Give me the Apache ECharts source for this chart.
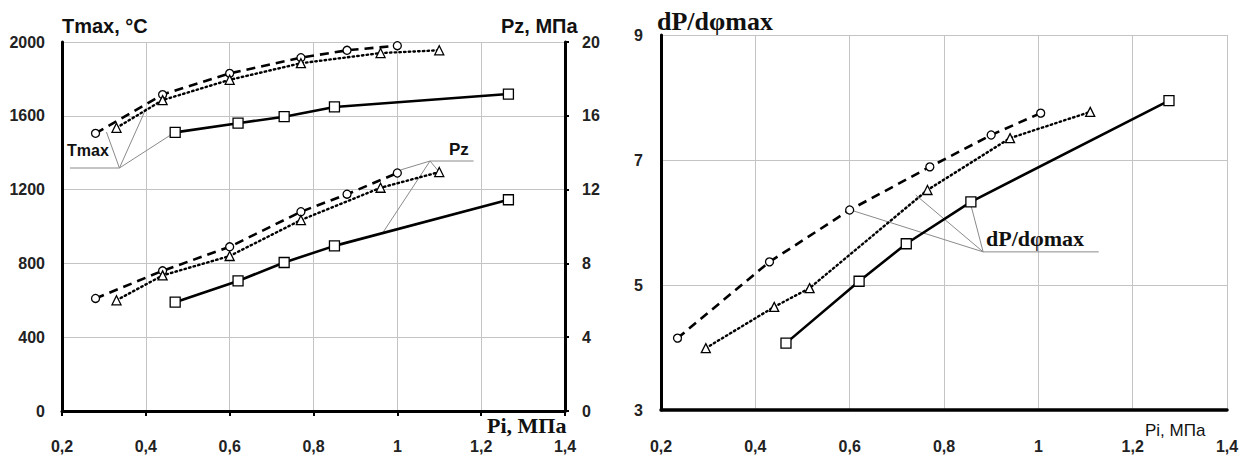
<!DOCTYPE html>
<html><head><meta charset="utf-8">
<script src="https://cdn.jsdelivr.net/npm/echarts@6/dist/echarts.min.js"></script>
<style>html,body{margin:0;padding:0;background:#fff}#c{width:1247px;height:457px}</style>
</head><body><div id="c"></div>
<script>
// ---------- Left chart data (Pi, MPa) ----------
const piCirc = [0.28, 0.44, 0.60, 0.77, 0.88, 1.00];
const tmaxCirc = [1505, 1715, 1830, 1915, 1955, 1980];
const pzCirc = [6.1, 7.6, 8.9, 10.8, 11.75, 12.9];

const piTri = [0.33, 0.44, 0.60, 0.77, 0.96, 1.10];
const tmaxTri = [1535, 1685, 1795, 1885, 1940, 1955];
const pzTri = [6.0, 7.35, 8.4, 10.35, 12.1, 12.95];

const piSq = [0.47, 0.62, 0.73, 0.85, 1.265];
const tmaxSq = [1510, 1560, 1595, 1648, 1718];
const pzSq = [5.9, 7.05, 8.05, 8.95, 11.45];

// ---------- Right chart data ----------
const pi2Circ = [0.235, 0.43, 0.60, 0.77, 0.90, 1.005];
const dpCirc = [4.15, 5.37, 6.2, 6.89, 7.4, 7.75];
const pi2Tri = [0.295, 0.44, 0.515, 0.765, 0.94, 1.11];
const dpTri = [3.99, 4.65, 4.95, 6.52, 7.35, 7.77];
const pi2Sq = [0.465, 0.62, 0.72, 0.857, 1.277];
const dpSq = [4.07, 5.06, 5.66, 6.33, 7.95];

// ---------- Axis ranges / labels ----------
const xRange = [0.2, 1.4, 0.2];
const tmaxRange = [0, 2000, 400];
const pzRange = [0, 20, 4];
const dpRange = [3, 9, 2];
const titles = {tmax: 'Tmax, °C', pz: 'Pz, МПа', pi: 'Pi, МПа', dp: 'dP/dφmax'};

// ---------- Leader-line annotations (data units) ----------
const leadTmax = {vertex: [0.337, 1317], end: [0.219, 1317], targets: [[0.306, 1512], [0.401, 1642], [0.470, 1512]]};
const leadPz = {vertex: [1.078, 13.55], end: [1.182, 13.55], targets: [[1.007, 13.06], [1.10, 12.95], [0.965, 9.65]]};
const leadDp = {vertex: [0.883, 5.53], end: [1.128, 5.53], targets: [[0.602, 6.2], [0.74, 6.44], [0.857, 6.28]]};

const zip = (a, b) => a.map((v, i) => [v, b[i]]);
const SANS = 'Liberation Sans';
const SERIF = 'Liberation Serif';
const GRID = '#c4c4c4';
const fmtX = v => (Math.round(v * 10) / 10).toString().replace('.', ',');
const fmtY = v => String(Math.round(v));

function styled(kind) {
  if (kind === 'circ') return {symbol: 'circle', symbolSize: 8, lineStyle: {color: '#000', width: 2.6, type: [9, 6]}};
  if (kind === 'tri') return {symbol: 'triangle', symbolSize: 9, lineStyle: {color: '#000', width: 2.4, type: [1.5, 3.2], cap: 'round'}};
  return {symbol: 'rect', symbolSize: 10, lineStyle: {color: '#000', width: 2.6, type: 'solid'}};
}
function ser(kind, data, xi, yi) {
  return Object.assign({
    type: 'line', xAxisIndex: xi, yAxisIndex: yi, data: data, silent: true, z: 5,
    showSymbol: true, animation: false,
    itemStyle: {color: '#fff', borderColor: '#000', borderWidth: 1.3}
  }, styled(kind));
}
function leaders(ld, xi, yi) {
  const segs = [[ld.end, ld.vertex]].concat(ld.targets.map(t => [ld.vertex, t]));
  return segs.map(s => ({
    type: 'line', xAxisIndex: xi, yAxisIndex: yi, data: s, symbol: 'none', silent: true, z: 3,
    animation: false, lineStyle: {color: '#8a8a8a', width: 1}
  }));
}

const chart = echarts.init(document.getElementById('c'), null, {renderer: 'svg'});
const tickLbl = {fontFamily: SANS, fontWeight: 'bold', fontSize: 16, color: '#222'};

const option = {
  animation: false,
  backgroundColor: '#fff',
  grid: [
    {left: 62, right: 682, top: 42, bottom: 46},
    {left: 661, right: 20, top: 35, bottom: 47}
  ],
  xAxis: [
    {gridIndex: 0, type: 'value', min: xRange[0], max: xRange[1], interval: xRange[2],
     axisLine: {show: true, lineStyle: {color: '#000', width: 3}},
     axisTick: {show: true, length: 5, lineStyle: {color: '#000', width: 2}},
     axisLabel: Object.assign({margin: 27, formatter: fmtX}, tickLbl),
     splitLine: {show: true, lineStyle: {color: GRID, width: 1}}},
    {gridIndex: 1, type: 'value', min: xRange[0], max: xRange[1], interval: xRange[2],
     axisLine: {show: true, lineStyle: {color: '#000', width: 3.5}},
     axisTick: {show: false},
     axisLabel: Object.assign({margin: 28, formatter: fmtX}, tickLbl),
     splitLine: {show: true, lineStyle: {color: GRID, width: 1}}}
  ],
  yAxis: [
    {gridIndex: 0, type: 'value', min: tmaxRange[0], max: tmaxRange[1], interval: tmaxRange[2],
     axisLine: {show: true, lineStyle: {color: '#000', width: 3}},
     axisTick: {show: false},
     axisLabel: Object.assign({margin: 17, formatter: fmtY}, tickLbl),
     splitLine: {show: true, lineStyle: {color: GRID, width: 1}}},
    {gridIndex: 0, type: 'value', position: 'right', min: pzRange[0], max: pzRange[1], interval: pzRange[2],
     axisLine: {show: true, onZero: false, lineStyle: {color: '#000', width: 3}},
     axisTick: {show: true, length: 4, lineStyle: {color: '#000', width: 2}},
     axisLabel: Object.assign({margin: 17, formatter: fmtY}, tickLbl),
     splitLine: {show: false}},
    {gridIndex: 1, type: 'value', min: dpRange[0], max: dpRange[1], interval: dpRange[2],
     axisLine: {show: true, lineStyle: {color: '#000', width: 3}},
     axisTick: {show: false},
     axisLabel: Object.assign({margin: 18, formatter: fmtY}, tickLbl),
     splitLine: {show: true, lineStyle: {color: GRID, width: 1}}}
  ],
  series: [].concat(
    leaders(leadTmax, 0, 0),
    leaders(leadPz, 0, 1),
    leaders(leadDp, 1, 2),
    [
      ser('circ', zip(piCirc, tmaxCirc), 0, 0),
      ser('tri', zip(piTri, tmaxTri), 0, 0),
      ser('sq', zip(piSq, tmaxSq), 0, 0),
      ser('circ', zip(piCirc, pzCirc), 0, 1),
      ser('tri', zip(piTri, pzTri), 0, 1),
      ser('sq', zip(piSq, pzSq), 0, 1),
      ser('circ', zip(pi2Circ, dpCirc), 1, 2),
      ser('tri', zip(pi2Tri, dpTri), 1, 2),
      ser('sq', zip(pi2Sq, dpSq), 1, 2)
    ]
  ),
  graphic: [
    {type: 'text', left: 62, top: 16, z: 10, style: {text: titles.tmax, font: 'bold 20px "' + SANS + '"', fill: '#111'}},
    {type: 'text', left: 501, top: 16, z: 10, style: {text: titles.pz, font: 'bold 20px "' + SANS + '"', fill: '#111'}},
    {type: 'text', left: 487, top: 414, z: 10, style: {text: titles.pi, font: 'bold 22px "' + SERIF + '"', fill: '#111'}},
    {type: 'text', left: 67, top: 142, z: 10, style: {text: 'Tmax', font: 'bold 16px "' + SANS + '"', fill: '#111'}},
    {type: 'text', left: 449, top: 141, z: 10, style: {text: 'Pz', font: 'bold 17px "' + SANS + '"', fill: '#111'}},
    {type: 'text', left: 657, top: 8, z: 10, style: {text: titles.dp, font: 'bold 26px "' + SERIF + '"', fill: '#111'}},
    {type: 'text', left: 986, top: 227, z: 10, style: {text: titles.dp, font: 'bold 22px "' + SERIF + '"', fill: '#111'}},
    {type: 'text', left: 1145, top: 422, z: 10, style: {text: titles.pi, font: '17px "' + SANS + '"', fill: '#111'}}
  ]
};
chart.setOption(option);
</script></body></html>
